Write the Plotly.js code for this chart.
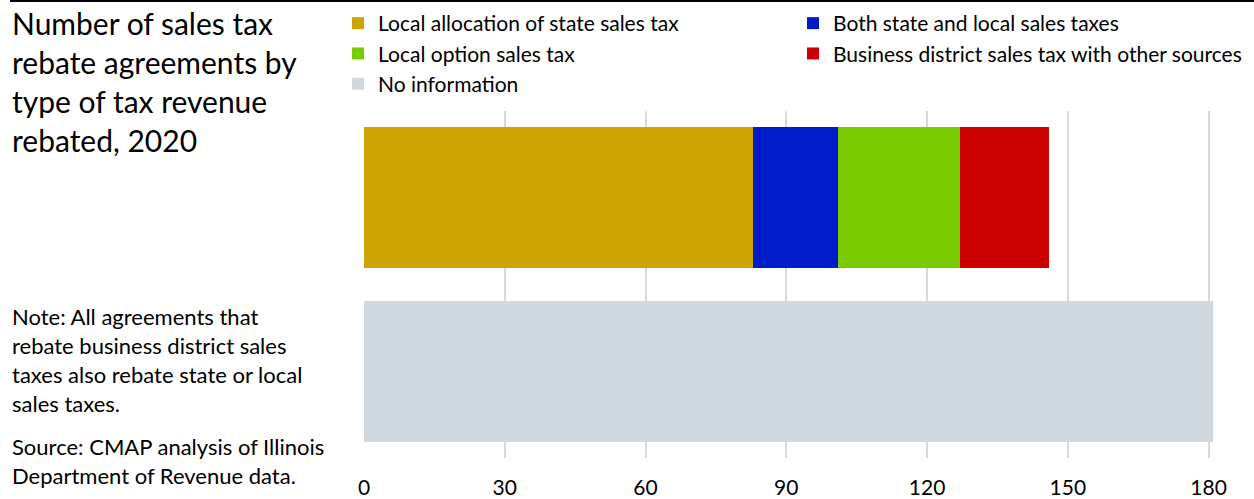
<!DOCTYPE html>
<html><head><meta charset="utf-8">
<script src="https://cdn.plot.ly/plotly-3.0.1.min.js"></script>
<style>body{margin:0;background:#fff}#chart{width:1254px;height:499px}</style>
</head><body><div id="chart"></div>
<script>
const categories = ['Type known', 'No information'];
const seriesNames = ['Local allocation of state sales tax', 'Both state and local sales taxes', 'Local option sales tax', 'Business district sales tax with other sources', 'No information'];
const localAllocation = [83, 0];
const bothStateLocal = [18, 0];
const localOption = [26, 0];
const businessDistrict = [19, 0];
const noInformation = [0, 181];
const tickValues = [0, 30, 60, 90, 120, 150, 180];
const titleLines = ['Number of sales tax', 'rebate agreements by', 'type of tax revenue', 'rebated, 2020'];
const noteLines = ['Note: All agreements that', 'rebate business district sales', 'taxes also rebate state or local', 'sales taxes.'];
const sourceLines = ['Source: CMAP analysis of Illinois', 'Department of Revenue data.'];

const W = 1254, H = 499;
const L = 364, R = 1218, T = 111, B = 458;
const pw = R - L, ph = B - T;
const px = x => (x - L) / pw;
const py = y => (B - y) / ph;
const FONT = 'Lato, "Open Sans", sans-serif';

const colors = ['#CDA500', '#001CC8', '#7ACC00', '#CC0000', '#D1D9E0'];
const values = [localAllocation, bothStateLocal, localOption, businessDistrict, noInformation];
const legendOf = ['legend', 'legend2', 'legend', 'legend2', 'legend'];

const traces = values.map((v, i) => ({
  type: 'bar', orientation: 'h', y: categories, x: v, name: seriesNames[i],
  marker: {color: colors[i], line: {width: 0}}, legend: legendOf[i], legendgroup: 'g' + i,
  hoverinfo: 'x+name'
}));

const annotations = [];
function addLines(lines, startY, step, size) {
  lines.forEach((t, i) => annotations.push({
    text: t, xref: 'paper', yref: 'paper', x: px(10), y: py(startY + i * step),
    xanchor: 'left', yanchor: 'middle', showarrow: false, align: 'left',
    font: {family: FONT, size: size, color: '#000'}
  }));
}
addLines(titleLines, 23, 39, 30);
addLines(noteLines, 316, 29, 22);
addLines(sourceLines, 446, 29, 22);

const legendCommon = {
  orientation: 'v', xanchor: 'left', yanchor: 'top', tracegroupgap: 0,
  font: {family: FONT, size: 21, color: '#000'}, bgcolor: 'rgba(0,0,0,0)',
  itemclick: false, itemdoubleclick: false
};

const layout = {
  width: W, height: H,
  margin: {l: L, r: W - R, t: T, b: H - B, pad: 0, autoexpand: false},
  paper_bgcolor: '#fff', plot_bgcolor: '#fff',
  barmode: 'stack', bargap: 0.19,
  showlegend: true,
  legend: Object.assign({}, legendCommon, {x: px(338), y: py(3)}),
  legend2: Object.assign({}, legendCommon, {x: px(793), y: py(3)}),
  xaxis: {
    range: [0, 182], tickvals: tickValues, ticktext: tickValues.map(String),
    showgrid: true, gridcolor: '#D9D9D9', gridwidth: 2, zeroline: false,
    showline: false, ticks: '', ticklabelstandoff: 15,
    tickfont: {family: FONT, size: 21, color: '#000'}, fixedrange: true
  },
  yaxis: {
    categoryorder: 'array', categoryarray: categories, autorange: 'reversed',
    showticklabels: false, showgrid: false, zeroline: false, showline: false, ticks: '', fixedrange: true
  },
  annotations: annotations,
  shapes: [{type: 'line', xref: 'paper', yref: 'paper', x0: px(10), x1: px(1254), y0: py(1), y1: py(1),
    line: {color: '#000', width: 2}}]
};

Plotly.newPlot('chart', traces, layout, {displayModeBar: false, staticPlot: false});
</script></body></html>
